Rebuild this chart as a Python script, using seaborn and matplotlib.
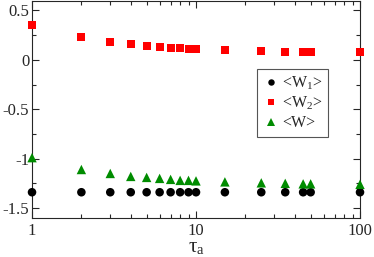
import matplotlib
matplotlib.use('Agg')
import matplotlib.pyplot as plt
import seaborn as sns
import pandas as pd
import numpy as np
from matplotlib.ticker import MultipleLocator, FixedLocator, NullFormatter

# DATA
tau = [1, 2, 3, 4, 5, 6, 7, 8, 9, 10, 15, 25, 35, 45, 50, 100]
w1 = [-1.34] * 16
w2 = [0.35, 0.227, 0.18, 0.157, 0.14, 0.13, 0.12, 0.117, 0.113, 0.11, 0.10, 0.09, 0.083, 0.08, 0.08, 0.077]
w = [-0.99, -1.11, -1.15, -1.18, -1.19, -1.20, -1.21, -1.22, -1.22, -1.225, -1.235, -1.245, -1.25, -1.255, -1.255, -1.26]
labels = [r'<W$_\mathregular{1}$>', r'<W$_\mathregular{2}$>', '<W>']

df = pd.concat([
    pd.DataFrame({'tau': tau, 'val': w1, 'series': labels[0]}),
    pd.DataFrame({'tau': tau, 'val': w2, 'series': labels[1]}),
    pd.DataFrame({'tau': tau, 'val': w, 'series': labels[2]}),
])

sns.set_style('ticks')
plt.rcParams['font.family'] = ['Liberation Serif', 'DejaVu Serif']
plt.rcParams['mathtext.fontset'] = 'stix'

fig = plt.figure(figsize=(3.74, 2.57), dpi=100)
ax = fig.add_axes([0.0856, 0.152, 0.877, 0.846])

palette = {labels[0]: 'black', labels[1]: '#ff0000', labels[2]: '#008c00'}
markers = {labels[0]: 'o', labels[1]: 's', labels[2]: '^'}
sizes = {labels[0]: 38, labels[1]: 32, labels[2]: 46}
sns.scatterplot(data=df, x='tau', y='val', hue='series', style='series', size='series',
                palette=palette, markers=markers, sizes=sizes, linewidth=0, ax=ax,
                clip_on=False, zorder=3)

ax.set_xscale('log')
ax.set_xlim(1, 100)
ax.set_ylim(-1.6, 0.6)
ax.set_xticks([1, 10, 100])
ax.set_xticklabels(['1', '10', '100'])
ax.xaxis.set_minor_locator(FixedLocator([i * 10 ** k for k in range(2) for i in range(2, 10)]))
ax.xaxis.set_minor_formatter(NullFormatter())
ax.yaxis.set_major_locator(FixedLocator([-1.5, -1, -0.5, 0, 0.5]))
ax.set_yticklabels(['-1.5', '-1', '-0.5', '0', '0.5'])
ax.yaxis.set_minor_locator(MultipleLocator(0.25))
ax.tick_params(which='both', direction='in', top=True, right=True, labelsize=12)
ax.tick_params(axis='x', pad=4)
ax.tick_params(axis='y', pad=2)
ax.tick_params(which='major', length=5, width=0.8)
ax.tick_params(which='minor', length=3, width=0.8)
for sp in ax.spines.values():
    sp.set_linewidth(0.8)

ax.set_xlabel(r'τ$_\mathregular{a}$', fontsize=15, labelpad=-1)
ax.set_ylabel('')

leg = ax.legend(title=None, loc='upper left', bbox_to_anchor=(0.686, 0.685), fontsize=11.5,
                frameon=True, fancybox=False, framealpha=1, edgecolor='#555555',
                handletextpad=0.2, borderpad=0.35, labelspacing=0.2, markerscale=0.75,
                handlelength=1.0, borderaxespad=0)
leg.get_frame().set_linewidth(0.8)

fig.savefig('out.png', dpi=100)
